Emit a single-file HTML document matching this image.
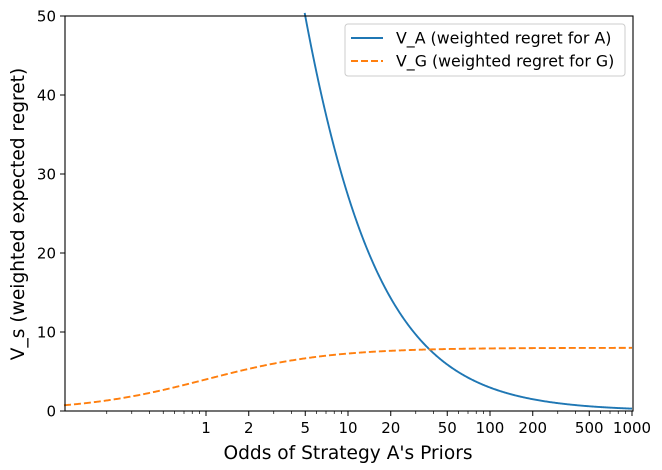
<!DOCTYPE html>
<html><head><meta charset="utf-8"><style>
body{margin:0;background:#fff}
svg{display:block;font-family:"DejaVu Sans","Liberation Sans",sans-serif}
</style></head><body>
<svg id="s" width="662" height="470" xmlns="http://www.w3.org/2000/svg">
<rect width="662" height="470" fill="#fff"/>
<g id="g"></g>
<path id="va" fill="none" stroke="#1f77b4" stroke-width="1.9"/>
<path id="vg" fill="none" stroke="#ff7f0e" stroke-width="1.9" stroke-dasharray="7,3"/>
<rect x="65" y="16" width="568" height="395" fill="none" stroke="#000" stroke-width="1.1"/>
<text x="348" y="459" font-size="18.6" text-anchor="middle">Odds of Strategy A's Priors</text>
<text transform="translate(24,214) rotate(-90)" font-size="18.6" text-anchor="middle">V_s (weighted expected regret)</text>
<rect x="345" y="24" width="280" height="52" fill="#fff" stroke="#ccc" rx="3"/>
<line x1="351" y1="38" x2="383" y2="38" stroke="#1f77b4" stroke-width="1.9"/>
<line x1="351" y1="61" x2="383" y2="61" stroke="#ff7f0e" stroke-width="1.9" stroke-dasharray="7,3"/>
<text x="396" y="43.5" font-size="15.8">V_A (weighted regret for A)</text>
<text x="396" y="66.5" font-size="15.8">V_G (weighted regret for G)</text>
</svg>
<script>
var L=65,R=633,T=16,B=411;
function X(v){return 206+142*Math.log10(v);}
function Y(v){return B-(B-T)*v/50;}
var g=document.getElementById('g'),h='';
for(var y=0;y<=50;y+=10){var py=Y(y);h+='<line x1="60" x2="65" y1="'+py+'" y2="'+py+'" stroke="#000"/><text x="56" y="'+(py+5.5)+'" font-size="15" text-anchor="end">'+y+'</text>';}
var labs=[1,2,5,10,20,50,100,200,500,1000];
for(var d=-1;d<3;d++)for(var k=1;k<10;k++){var v=k*Math.pow(10,d),px=X(v);if(px<L+0.5||px>R+1)continue;
var major=labs.indexOf(Math.round(v*1000)/1000)>=0;
h+='<line x1="'+px+'" x2="'+px+'" y1="411" y2="'+(major?416:414)+'" stroke="#000" stroke-width="'+(major?1:0.7)+'"/>';
if(major)h+='<text x="'+px+'" y="433" font-size="15" text-anchor="middle">'+Math.round(v)+'</text>';}
h+='<line x1="'+X(1000)+'" x2="'+X(1000)+'" y1="411" y2="416" stroke="#000"/><text x="'+X(1000)+'" y="433" font-size="15" text-anchor="middle">1000</text>';
g.innerHTML=h;
var a='',b='';
for(var i=0;i<=800;i++){var lx=-1+4*i/800,v=Math.pow(10,lx),px=X(v);
var va=300/(v+1),vg=8*v/(v+1);
if(va<=50.5)a+=(a?'L':'M')+px.toFixed(2)+','+Y(va).toFixed(2);
b+=(b?'L':'M')+px.toFixed(2)+','+Y(vg).toFixed(2);}
document.getElementById('va').setAttribute('d',a);
document.getElementById('vg').setAttribute('d',b);
</script>
</body></html>
